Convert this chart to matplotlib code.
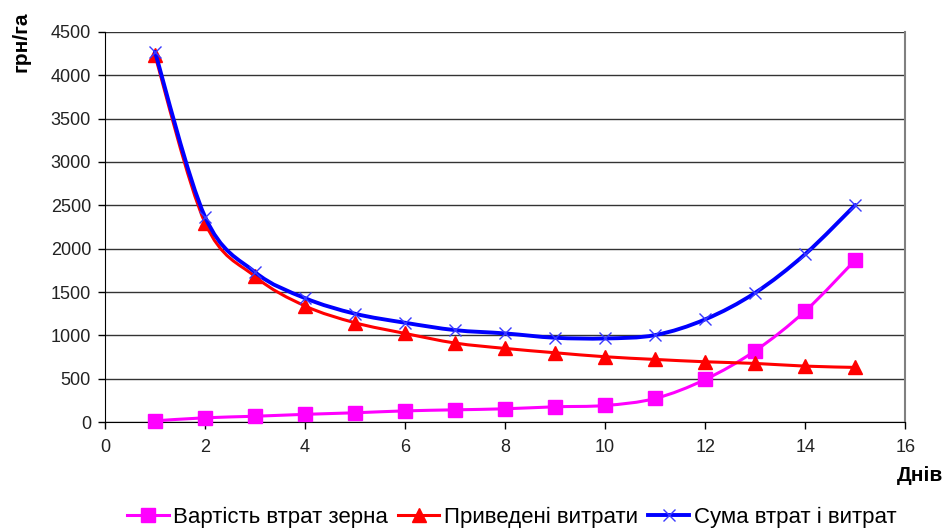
import matplotlib
matplotlib.use("Agg")
import matplotlib.pyplot as plt
from matplotlib.path import Path
from matplotlib.patches import PathPatch
from matplotlib.lines import Line2D
import numpy as np

plt.rcParams['font.family'] = ['Liberation Sans', 'DejaVu Sans']

days = [1, 2, 3, 4, 5, 6, 7, 8, 9, 10, 11, 12, 13, 14, 15]
grain_loss = [15, 50, 68, 90, 108, 130, 142, 154, 177, 192, 273, 492, 823, 1281, 1869]
costs = [4230, 2300, 1680, 1340, 1146, 1023, 912, 850, 800, 754, 723, 696, 677, 646, 631]
total = [4270, 2370, 1730, 1430, 1250, 1146, 1061, 1023, 973, 965, 1004, 1185, 1492, 1938, 2504]
labels = ['Вартість втрат зерна', 'Приведені витрати', 'Сума втрат і витрат']


def smooth_path(xs, ys):
    # Excel-style smoothed line: cubic Bezier segments through the data points
    p = np.column_stack([xs, ys]).astype(float)
    n = len(p)
    verts = [p[0]]
    codes = [Path.MOVETO]
    for i in range(n - 1):
        p0 = p[i - 1] if i > 0 else p[i]
        p3 = p[i + 2] if i + 2 < n else p[i + 1]
        c1 = p[i] + (p[i + 1] - p0) / 6
        c2 = p[i + 1] - (p3 - p[i]) / 6
        verts += [c1, c2, p[i + 1]]
        codes += [Path.CURVE4] * 3
    return Path(verts, codes)


fig = plt.figure(figsize=(9.45, 5.31), dpi=100)
ax = fig.add_axes([0.111, 0.205, 0.847, 0.735])

series = [
    (grain_loss, '#FF00FF', 's', 2.2, 10, 1),
    (costs, '#FF0000', '^', 2.2, 10, 1),
    (total, '#0000FF', 'x', 2.8, 9, 1),
]
handles = []
for k, (vals, col, mk, lw, ms, mew) in enumerate(series):
    ax.add_patch(PathPatch(smooth_path(days, vals), facecolor='none', edgecolor=col,
                           lw=lw, zorder=3 + k * 2, capstyle='round', joinstyle='round'))
    mcol = '#3a3aff' if mk == 'x' else col
    ax.plot(days, vals, linestyle='none', marker=mk, color=mcol, markersize=ms,
            markeredgewidth=mew, zorder=4 + k * 2, clip_on=False)
    handles.append(Line2D([], [], color=col, lw=lw, marker=mk, markersize=ms,
                          markerfacecolor=mcol, markeredgecolor=mcol, markeredgewidth=mew))

ax.set_xlim(0, 16)
ax.set_ylim(0, 4500)
ax.set_xticks(range(0, 17, 2))
ax.set_yticks(range(0, 4501, 500))
ax.yaxis.grid(True, color='#333333', lw=1)
ax.set_axisbelow(True)
for s in ['left', 'bottom']:
    ax.spines[s].set_color('black')
ax.spines['top'].set_visible(False)
ax.spines['right'].set_color('#808080')
ax.spines['right'].set_linewidth(1.5)
ax.tick_params(direction='out', length=5, width=1, labelsize=13, color='black',
               labelcolor='#222222')
ax.tick_params(axis='y', pad=5)
ax.tick_params(axis='x', pad=7)

fig.text(0.022, 0.921, 'грн/га', rotation=90, ha='center', va='center',
         fontsize=15, fontweight='bold')
fig.text(0.998, 0.104, 'Днів', ha='right', va='center', fontsize=15, fontweight='bold')

fig.legend(handles, labels, loc='center', bbox_to_anchor=(0.542, 0.026), ncol=3,
           frameon=False, fontsize=16, handlelength=1.85, handletextpad=0.22,
           columnspacing=0.45, numpoints=1, borderpad=0)

fig.savefig('out.png', dpi=100)
